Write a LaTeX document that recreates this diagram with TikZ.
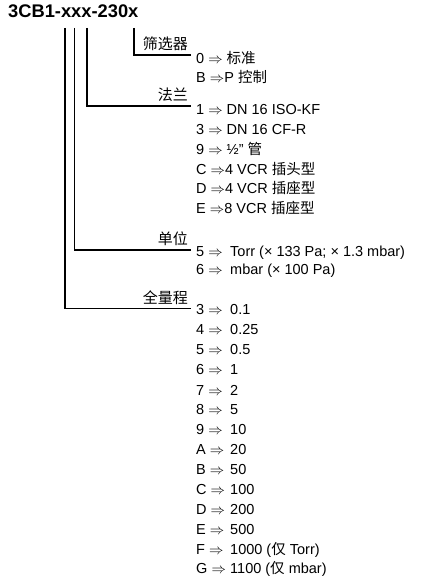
\documentclass[tikz,border=0pt]{standalone}
\usepackage{fontspec}
\setmainfont{Liberation Sans}
\newfontfamily\cjk{Noto Sans CJK SC}
\newcommand\kvrow[2]{\makebox[34pt][l]{#1 $\Rightarrow$}#2}
\begin{document}
\begin{tikzpicture}[x=1pt,y=-1pt,
  item/.style={anchor=west,inner sep=0pt,font=\fontsize{14.5}{16}\selectfont},
  lbl/.style={anchor=south east,inner sep=0pt,font=\cjk\fontsize{15}{16}\selectfont},
  conn/.style={line width=1.3pt}]
\useasboundingbox (0,0) rectangle (430,577);
\node[anchor=base west,inner sep=0pt,font=\bfseries\fontsize{18.3}{20}\selectfont] (title) at (8,18) {3CB1-xxx-230x};
% tops of the vertical lines
\coordinate (tfull) at (65,28);
\coordinate (tunit) at (74.5,28);
\coordinate (tflange) at (87,28);
\coordinate (tfilter) at (134,28);
% ends of the horizontal lines
\coordinate (efilter) at (191,55);
\coordinate (eflange) at (191,106);
\coordinate (eunit) at (191,250);
\coordinate (efull) at (191,308.5);
\draw[conn] (tfilter) |- (efilter);
\draw[conn] (tflange) |- (eflange);
\draw[conn] (tunit) |- (eunit);
\draw[conn] (tfull) |- (efull);
% labels
\node[lbl] (lfilter) at (188,51) {筛选器};
\node[lbl] (lflange) at (188,102) {法兰};
\node[lbl] (lunit) at (188,246) {单位};
\node[lbl] (lfull) at (188,305) {全量程};
% filter
\node[item] (f0) at (196,57.5) {0 $\Rightarrow$ {\cjk 标准}};
\node[item] (fB) at (196,76.5) {B $\Rightarrow$P {\cjk 控制}};
% flange
\node[item] (g1) at (196,110) {1 $\Rightarrow$ DN 16 ISO-KF};
\node[item] (g3) at (196,129.5) {3 $\Rightarrow$ DN 16 CF-R};
\node[item] (g9) at (196,149) {9 $\Rightarrow$ ½" {\cjk 管}};
\node[item] (gC) at (196,168.5) {C $\Rightarrow$4 VCR {\cjk 插头型}};
\node[item] (gD) at (196,188) {D $\Rightarrow$4 VCR {\cjk 插座型}};
\node[item] (gE) at (196,207.5) {E $\Rightarrow$8 VCR {\cjk 插座型}};
% unit
\node[item] (u5) at (196,253) {\kvrow{5}{Torr (× 133 Pa; × 1.3 mbar)}};
\node[item] (u6) at (196,270.5) {\kvrow{6}{mbar (× 100 Pa)}};
% full range
\node[item] (r3) at (196,310) {\kvrow{3}{0.1}};
\node[item] (r4) at (196,330) {\kvrow{4}{0.25}};
\node[item] (r5) at (196,350) {\kvrow{5}{0.5}};
\node[item] (r6) at (196,370) {\kvrow{6}{1}};
\node[item] (r7) at (196,390) {\kvrow{7}{2}};
\node[item] (r8) at (196,410) {\kvrow{8}{5}};
\node[item] (r9) at (196,430) {\kvrow{9}{10}};
\node[item] (rA) at (196,450) {\kvrow{A}{20}};
\node[item] (rB) at (196,470) {\kvrow{B}{50}};
\node[item] (rC) at (196,490) {\kvrow{C}{100}};
\node[item] (rD) at (196,510) {\kvrow{D}{200}};
\node[item] (rE) at (196,530) {\kvrow{E}{500}};
\node[item] (rF) at (196,550) {\kvrow{F}{1000 ({\cjk 仅} Torr)}};
\node[item] (rG) at (196,569) {\kvrow{G}{1100 ({\cjk 仅} mbar)}};
\end{tikzpicture}
\end{document}
